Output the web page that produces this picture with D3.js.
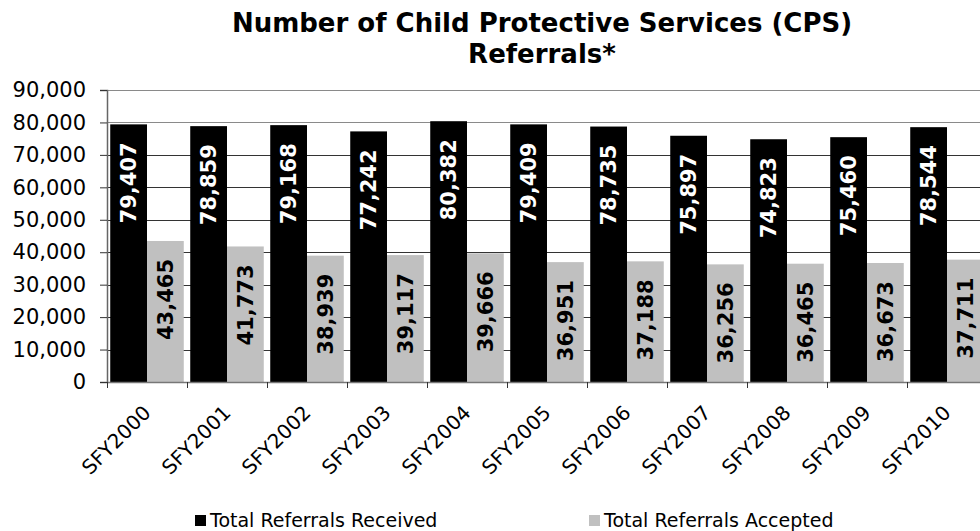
<!DOCTYPE html>
<html>
<head>
<meta charset="utf-8">
<script src="https://cdn.jsdelivr.net/npm/d3@7/dist/d3.min.js"></script>
<style>
  html, body { margin: 0; padding: 0; background: #fff; overflow: hidden; }
  svg { display: block; }
  text { font-family: "DejaVu Sans", Verdana, sans-serif; }
</style>
</head>
<body>
<svg id="chart" width="980" height="531"></svg>
<script>
const categories = ["SFY2000","SFY2001","SFY2002","SFY2003","SFY2004","SFY2005","SFY2006","SFY2007","SFY2008","SFY2009","SFY2010"];
const received = [79407, 78859, 79168, 77242, 80382, 79409, 78735, 75897, 74823, 75460, 78544];
const accepted = [43465, 41773, 38939, 39117, 39666, 36951, 37188, 36256, 36465, 36673, 37711];
const yTicks = [0, 10000, 20000, 30000, 40000, 50000, 60000, 70000, 80000, 90000];
const seriesNames = ["Total Referrals Received", "Total Referrals Accepted"];
const seriesColors = ["#000000", "#c0c0c0"];
const titleLines = ["Number of Child Protective Services (CPS)", "Referrals*"];

const svg = d3.select("#chart");
const pLeft = 107, pRight = 987, pTop = 90, pBottom = 382;

const x = d3.scaleBand().domain(categories).range([pLeft, pRight]).paddingInner(0).paddingOuter(0);
const sub = d3.scaleBand().domain([0, 1]).range([0, x.bandwidth()]).paddingInner(0).paddingOuter(0.088);
const y = d3.scaleLinear().domain([0, 90000]).range([pBottom, pTop]);
const fmt = d3.format(",");

// title
svg.append("g").selectAll("text").data(titleLines).join("text")
  .attr("x", 542).attr("y", (d, i) => 32 + i * 31)
  .attr("text-anchor", "middle").attr("font-weight", "bold").attr("font-size", 26)
  .attr("fill", "#000").text(d => d);

// gridlines
svg.append("g").selectAll("line").data(yTicks.filter(t => t > 0)).join("line")
  .attr("x1", pLeft).attr("x2", pRight)
  .attr("y1", d => Math.round(y(d)) + 0.5).attr("y2", d => Math.round(y(d)) + 0.5)
  .attr("stroke", d => d >= 80000 ? "#8a8a8a" : "#333").attr("stroke-width", 1);

// bars
const data = categories.map((c, i) => ({ c, vals: [received[i], accepted[i]] }));
const groups = svg.append("g").selectAll("g").data(data).join("g")
  .attr("transform", d => `translate(${x(d.c)},0)`);
groups.selectAll("rect").data(d => d.vals.map((v, k) => ({ v, k }))).join("rect")
  .attr("x", d => sub(d.k)).attr("width", sub.bandwidth())
  .attr("y", d => y(d.v)).attr("height", d => y(0) - y(d.v))
  .attr("fill", d => seriesColors[d.k]);

// value labels
groups.selectAll("text").data(d => d.vals.map((v, k) => ({ v, k }))).join("text")
  .attr("transform", d => `translate(${sub(d.k) + sub.bandwidth() / 2},${y(d.v)}) rotate(-90)`)
  .attr("x", -18).attr("dy", "0.36em")
  .attr("text-anchor", "end").attr("font-weight", "bold").attr("font-size", 21)
  .attr("fill", d => d.k === 0 ? "#fff" : "#000")
  .text(d => fmt(d.v));

// y axis
const yAxis = d3.axisLeft(y).tickValues(yTicks).tickSize(7).tickPadding(14)
  .tickFormat(d => fmt(d));
const gy = svg.append("g").attr("transform", `translate(${pLeft},0)`).call(yAxis);
gy.select(".domain").attr("stroke", "#666").attr("stroke-width", 1.5);
gy.selectAll(".tick line").attr("stroke", "#333");
gy.selectAll(".tick text").attr("font-size", 21).attr("fill", "#000")
  .attr("font-family", "DejaVu Sans, Verdana, sans-serif");

// x axis
const xAxis = d3.axisBottom(x).tickSize(0).tickFormat("");
const gx = svg.append("g").attr("transform", `translate(0,${pBottom})`).call(xAxis);
gx.select(".domain").attr("stroke", "#777").attr("stroke-width", 1.5);
svg.append("g").selectAll("line").data(categories).join("line")
  .attr("x1", d => x(d) + 0.5).attr("x2", d => x(d) + 0.5)
  .attr("y1", pBottom).attr("y2", pBottom + 6).attr("stroke", "#333");
svg.append("g").selectAll("text").data(categories).join("text")
  .attr("transform", d => `translate(${x(d) + x.bandwidth() / 2 + 5},${414}) rotate(-45)`)
  .attr("text-anchor", "end").attr("font-size", 20).attr("fill", "#000")
  .text(d => d);

// legend
const legX = [195, 589];
const leg = svg.append("g").selectAll("g").data(seriesNames).join("g")
  .attr("transform", (d, i) => `translate(${legX[i]},527)`);
leg.append("rect").attr("x", 0).attr("y", -12).attr("width", 11).attr("height", 11)
  .attr("fill", (d, i) => seriesColors[i]);
leg.append("text").attr("x", 15)
  .attr("font-size", 19).attr("fill", "#000").text(d => d);
</script>
</body>
</html>
